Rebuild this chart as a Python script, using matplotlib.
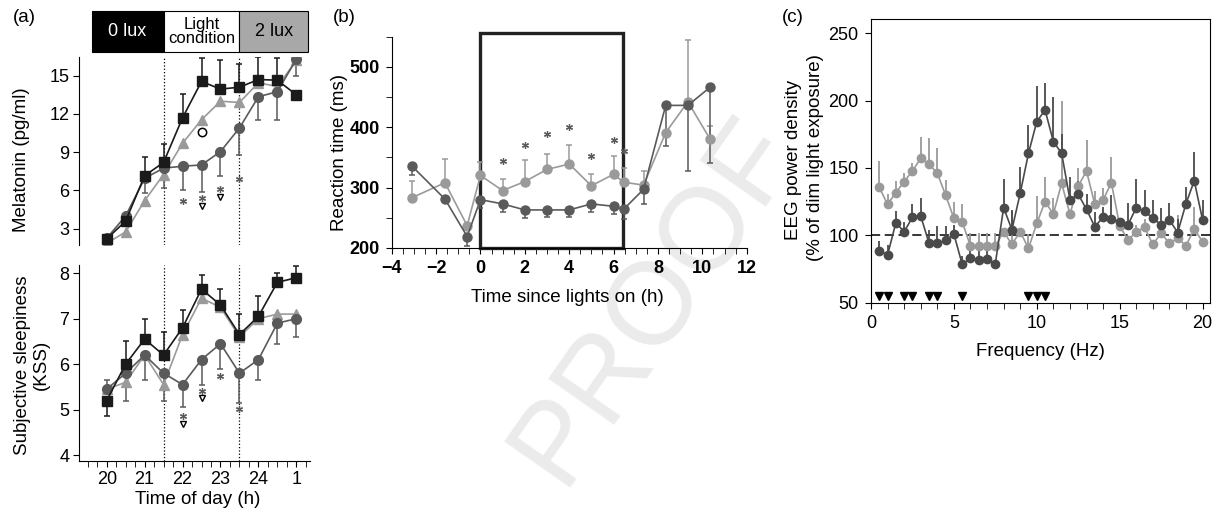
import numpy as np
import matplotlib
matplotlib.use('Agg')
import matplotlib.pyplot as plt
from matplotlib.patches import Rectangle
from matplotlib.ticker import MultipleLocator
from matplotlib.transforms import blended_transform_factory

plt.rcParams['font.family'] = ['Liberation Sans', 'DejaVu Sans']
nan = np.nan

# (a) melatonin and sleepiness, half-hourly samples
times_a = [20.0, 20.5, 21.0, 21.5, 22.0, 22.5, 23.0, 23.5, 24.0, 24.5, 25.0]

mel_0lux = [2.2, 3.6, 7.15, 8.2, 11.7, 14.55, 13.95, 14.1, 14.7, 14.65, 13.5]
mel_0lux_hi = [nan, nan, 8.65, 9.65, 13.6, 16.4, 16.25, 15.95, 16.5, 16.4, nan]
mel_light = [2.25, 4.0, 6.95, 7.75, 7.9, 8.0, 9.05, 10.9, 13.35, 13.75, 16.3]
mel_light_lo = [nan, nan, 5.8, 6.2, 6.05, 5.9, 7.1, 8.75, 11.5, 11.5, 15.0]
mel_2lux = [1.85, 2.75, 5.2, 7.25, 9.7, 11.55, 13.0, 12.9, 14.45, 14.15, 16.2]

kss_0lux = [5.2, 6.0, 6.55, 6.2, 6.8, 7.65, 7.3, 6.65, 7.05, 7.8, 7.9]
kss_0lux_err = [4.85, 6.5, 7.0, 6.7, 7.2, 7.95, 7.65, 7.1, 7.5, 8.0, 8.15]
kss_light = [5.45, 5.8, 6.2, 5.8, 5.55, 6.1, 6.45, 5.8, 6.1, 6.9, 7.0]
kss_light_err = [5.65, 5.2, 5.65, 5.2, 5.05, 5.55, 5.9, 5.15, 5.65, 6.45, 6.6]
kss_2lux = [5.45, 5.6, 6.2, 5.55, 6.65, 7.45, 7.25, 6.6, 7.0, 7.1, 7.1]

mel_star_x = [22.0, 22.5, 23.0, 23.5]
mel_star_y = [5.2, 5.4, 6.1, 6.9]
mel_tri_x = [22.5, 23.0]
mel_tri_y = [4.8, 5.45]
kss_star_x = [22.0, 22.5, 23.0, 23.5]
kss_star_y = [4.86, 5.4, 5.73, 5.01]
kss_tri_x = [22.0, 22.5]
kss_tri_y = [4.69, 5.25]

# (b) reaction time
t_rt = [-3.1, -1.6, -0.6, 0.0, 1.0, 2.0, 3.0, 4.0, 5.0, 6.0, 6.45, 7.35, 8.35, 9.35, 10.35]
rt_gray = [283, 308, 237, 320, 295, 310, 330, 339, 303, 322, 309, 304, 391, 442, 380]
rt_gray_hi = [311, 348, nan, 343, 315, 345, 356, 371, 323, 353, 332, 328, nan, 545, 402]
rt_dark = [336, 281, 219, 280, 273, 263, 263, 263, 273, 269, 264, 297, 436, 436, 466]
rt_dark_lo = [321, nan, 203, 266, 260, 250, 251, 251, 260, 257, 248, 273, 368, 328, 341]
rt_star_x = [1.0, 2.0, 3.0, 4.0, 5.0, 6.0, 6.45]
rt_star_y = [344, 371, 388, 401, 353, 379, 361]

# (c) EEG power density per 0.5 Hz bin
freq = [0.5, 1.0, 1.5, 2.0, 2.5, 3.0, 3.5, 4.0, 4.5, 5.0,
        5.5, 6.0, 6.5, 7.0, 7.5, 8.0, 8.5, 9.0, 9.5, 10.0,
        10.5, 11.0, 11.5, 12.0, 12.5, 13.0, 13.5, 14.0, 14.5, 15.0,
        15.5, 16.0, 16.5, 17.0, 17.5, 18.0, 18.5, 19.0, 19.5, 20.0]
eeg_gray = [135.6, 123, 131.7, 139.9, 147.8, 157.2, 153, 146, 130, 112.6,
            110.1, 92.1, 92.1, 92.1, 92.1, 102.7, 93.3, 102.7, 90.3, 108.9,
            125, 115.8, 138.6, 115.8, 136.6, 147.8, 123, 126.2, 139.1, 107.2,
            96.5, 102.5, 106, 93.3, 101.5, 94.1, 97.8, 92.3, 104.7, 95.3]
eeg_gray_hi = [155, 131, 140, 146, 154, 173, 172, 165, 141, 125,
               123, 102, 102, 102, 102, nan, 118, nan, 101, 129,
               143, 128, 200, nan, 150, 171, 133, 135, 158, nan,
               nan, 108, 112, nan, 110, nan, 115, nan, 121, nan]
eeg_dark = [88.6, 85.4, 109.4, 102.7, 113.4, 114.4, 94.1, 94.1, 96.2, 101,
            78.5, 82.9, 81.7, 82.2, 79, 120.5, 104.2, 131.2, 160.9, 184.4,
            193.1, 169.6, 160.9, 126.5, 130.5, 119.3, 106.4, 113.4, 112.1, 110,
            107.8, 120.5, 118, 112.6, 108, 111.4, 102.1, 123.5, 140.5, 111.6]
eeg_dark_hi = [96, 93, 118, 110, 123, 128, 104, 107, 107, 108,
               85, 91, 91, 91, nan, 142, 119, 151, 182, 211,
               213, 203, 175, 143, 140, 131, 117, 121, 130, nan,
               124, 142, 134, 126, 120, 124, 112, 136, 162, 126]
sig_freq = [0.5, 1.0, 2.0, 2.5, 3.5, 4.0, 5.5, 9.5, 10.0, 10.5]

BLACK = '#1a1a1a'
DARK = '#5a5a5a'
GRAY = '#9a9a9a'
W, H = 1215, 514


def fx(x):
    return x / W


def fy(y):
    return 1 - y / H


def bars(ax, x, y, ends, color, cap=True, lw=1.1, z=1):
    x = np.asarray(x, float)
    y = np.asarray(y, float)
    ends = np.asarray(ends, float)
    m = ~np.isnan(ends)
    ax.vlines(x[m], y[m], ends[m], color=color, lw=lw, zorder=z)
    if cap:
        ax.plot(x[m], ends[m], ls='none', marker='_', ms=5, mew=lw, color=color, zorder=z)


fig = plt.figure(figsize=(W / 100, H / 100), dpi=100)

# faint watermark behind everything
fig.text(fx(655), fy(300), 'PROOF', rotation=55, fontsize=84, color='#ebebeb',
         ha='center', va='center', zorder=-1)

# ---- (a) top: melatonin
ax1 = fig.add_axes([fx(79), fy(245), fx(310 - 79), (245 - 56.6) / H])
ax1.set_facecolor('none')
ax1.set_xlim(19.27, 25.36)
ax1.set_ylim(1.72, 16.5)
for s in ['top', 'right', 'bottom']:
    ax1.spines[s].set_visible(False)
ax1.set_xticks([])
ax1.set_yticks([3, 6, 9, 12, 15])
ax1.tick_params(axis='y', direction='out', length=4, labelsize=13, pad=3)
for v in [21.5, 23.5]:
    ax1.axvline(v, ls=':', color='k', lw=0.9, zorder=0)

bars(ax1, times_a, mel_light, mel_light_lo, DARK)
bars(ax1, times_a, mel_0lux, mel_0lux_hi, BLACK)
ax1.plot(times_a, mel_2lux, color=GRAY, lw=1.2, marker='^', ms=6.5, zorder=3)
ax1.plot(times_a, mel_light, color=DARK, lw=1.2, marker='o', ms=7, zorder=4)
ax1.plot(times_a, mel_0lux, color=BLACK, lw=1.2, marker='s', ms=7, zorder=5)
ax1.plot(mel_star_x, mel_star_y, ls='none', marker=(6, 2, 0), ms=5, mew=0.9, color=DARK)
ax1.plot(mel_tri_x, mel_tri_y, ls='none', marker='v', ms=5, mfc='white', mec='k', mew=1)
ax1.plot([22.5], [10.56], ls='none', marker='o', ms=6, mfc='white', mec='k', mew=1.1)

# header bar with lighting conditions
tr = blended_transform_factory(ax1.transData, ax1.transAxes)
y0, hh = 1.0244, 0.2176
blocks = [(19.6, 21.5, 'k', '0 lux', 'white'),
          (21.5, 23.5, 'white', 'Light\ncondition', 'k'),
          (23.5, 25.3, '#a8a8a8', '2 lux', 'k')]
for a, b, fc, label, tc in blocks:
    ax1.add_patch(Rectangle((a, y0), b - a, hh, transform=tr, facecolor=fc,
                            edgecolor='k', lw=0.8, clip_on=False))
    ax1.text((a + b) / 2, y0 + hh / 2, label, transform=tr, ha='center', va='center',
             color=tc, fontsize=13 if '\n' not in label else 12, linespacing=0.95)

# ---- (a) bottom: sleepiness
ax2 = fig.add_axes([fx(79), fy(461), fx(310 - 79), (461 - 265) / H])
ax2.set_facecolor('none')
ax2.set_xlim(19.27, 25.36)
ax2.set_ylim(3.87, 8.18)
for s in ['top', 'right']:
    ax2.spines[s].set_visible(False)
ax2.set_yticks([4, 5, 6, 7, 8])
ax2.set_xticks([20, 21, 22, 23, 24, 25])
ax2.set_xticklabels(['20', '21', '22', '23', '24', '1'])
ax2.xaxis.set_minor_locator(MultipleLocator(0.25))
ax2.tick_params(axis='both', which='both', direction='out', length=4, labelsize=13, pad=3)
for v in [21.5, 23.5]:
    ax2.axvline(v, ls=':', color='k', lw=0.9, zorder=0)

bars(ax2, times_a, kss_light, kss_light_err, DARK)
bars(ax2, times_a, kss_0lux, kss_0lux_err, BLACK)
ax2.plot(times_a, kss_2lux, color=GRAY, lw=1.2, marker='^', ms=6.5, zorder=3)
ax2.plot(times_a, kss_light, color=DARK, lw=1.2, marker='o', ms=7, zorder=4)
ax2.plot(times_a, kss_0lux, color=BLACK, lw=1.2, marker='s', ms=7, zorder=5)
ax2.plot(kss_star_x, kss_star_y, ls='none', marker=(6, 2, 0), ms=5, mew=0.9, color=DARK)
ax2.plot(kss_tri_x, kss_tri_y, ls='none', marker='v', ms=5, mfc='white', mec='k', mew=1)

fig.text(fx(22), fy(160), 'Melatonin (pg/ml)', rotation=90, ha='center', va='center', fontsize=13.5)
fig.text(fx(32), fy(365), 'Subjective sleepiness\n(KSS)', rotation=90, ha='center', va='center',
         fontsize=13.5, linespacing=1.15)
fig.text(fx(198), fy(499), 'Time of day (h)', ha='center', va='center', fontsize=13.5)
fig.text(fx(24), fy(17), '(a)', ha='center', va='center', fontsize=13.5)

# ---- (b) reaction time
ax3 = fig.add_axes([fx(391.7), fy(248), fx(355), (248 - 36.5) / H])
ax3.set_facecolor('none')
ax3.set_xlim(-4, 12)
ax3.set_ylim(200, 550)
for s in ['top', 'right']:
    ax3.spines[s].set_visible(False)
ax3.set_xticks(range(-4, 13, 2))
ax3.set_xticklabels(['\u22124', '\u22122', '0', '2', '4', '6', '8', '10', '12'])
ax3.xaxis.set_minor_locator(MultipleLocator(0.5))
ax3.set_yticks([200, 300, 400, 500])
ax3.yaxis.set_minor_locator(MultipleLocator(50))
ax3.tick_params(axis='both', which='both', direction='out', length=4.5, pad=4)
for lab in ax3.get_xticklabels() + ax3.get_yticklabels():
    lab.set_fontweight('bold')
    lab.set_fontsize(13)
    lab.set_family(['Liberation Sans Narrow', 'Liberation Sans', 'DejaVu Sans'])

ax3.add_patch(Rectangle((0, 200), 6.44, 356, facecolor='none', edgecolor='#222222',
                        lw=2.4, clip_on=False, zorder=2))
bars(ax3, t_rt, rt_gray, rt_gray_hi, GRAY, z=2)
bars(ax3, t_rt, rt_dark, rt_dark_lo, DARK, z=2)
ax3.plot(t_rt, rt_gray, color=GRAY, lw=1.2, marker='o', ms=6.5, zorder=3)
ax3.plot(t_rt, rt_dark, color=DARK, lw=1.2, marker='o', ms=6.5, zorder=4)
ax3.plot(rt_star_x, rt_star_y, ls='none', marker=(6, 2, 0), ms=5, mew=0.9, color=DARK)

fig.text(fx(339), fy(152), 'Reaction time (ms)', rotation=90, ha='center', va='center', fontsize=13.5)
fig.text(fx(567), fy(297), 'Time since lights on (h)', ha='center', va='center', fontsize=13.5)
fig.text(fx(344), fy(17), '(b)', ha='center', va='center', fontsize=13.5)

# ---- (c) EEG power density
ax4 = fig.add_axes([fx(871), fy(302.7), fx(339), (302.7 - 19) / H])
ax4.set_facecolor('none')
ax4.set_xlim(0, 20.45)
ax4.set_ylim(50, 260.6)
ax4.set_xticks([0, 5, 10, 15, 20])
ax4.xaxis.set_minor_locator(MultipleLocator(1))
ax4.set_yticks([50, 100, 150, 200, 250])
ax4.tick_params(axis='both', which='both', direction='out', length=4, labelsize=13, pad=5)
ax4.axhline(100, color='k', lw=1.1, ls=(0, (6, 3)), zorder=1)

bars(ax4, freq, eeg_gray, eeg_gray_hi, GRAY, cap=False, lw=1.3, z=2)
bars(ax4, freq, eeg_dark, eeg_dark_hi, '#4a4a4a', cap=False, lw=1.3, z=2)
ax4.plot(freq, eeg_gray, color=GRAY, lw=1.2, marker='o', ms=6, zorder=3)
ax4.plot(freq, eeg_dark, color='#4a4a4a', lw=1.2, marker='o', ms=6, zorder=4)
ax4.plot(sig_freq, [55] * len(sig_freq), ls='none', marker='v', ms=5.5, color='k')

fig.text(fx(793), fy(160), 'EEG power density', rotation=90, ha='center', va='center', fontsize=13.5)
fig.text(fx(815), fy(158), '(% of dim light exposure)', rotation=90, ha='center', va='center',
         fontsize=13.5)
fig.text(fx(1040), fy(352), 'Frequency (Hz)', ha='center', va='center', fontsize=13.5)
fig.text(fx(793), fy(17), '(c)', ha='center', va='center', fontsize=13.5)

fig.savefig('out.png', dpi=100)
